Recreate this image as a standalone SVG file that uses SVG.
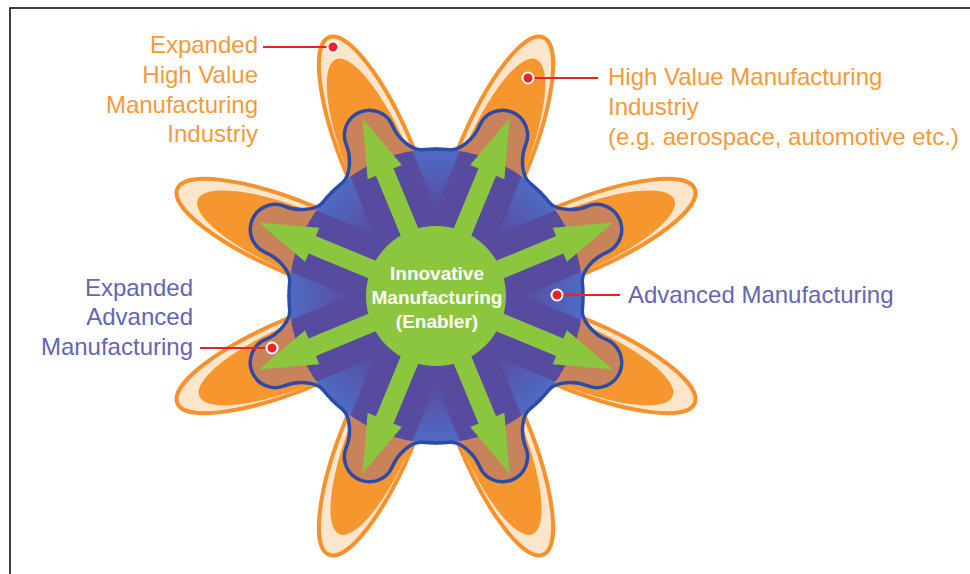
<svg xmlns="http://www.w3.org/2000/svg" xmlns:xlink="http://www.w3.org/1999/xlink" width="970" height="574" viewBox="0 0 970 574">
<style>
.po{fill:#fde6cc;stroke:#f5922e;stroke-width:4}
.pi{fill:#f5962f}
.lobe{fill:#c9835a}
.outline{fill:none;stroke:#2c4aa7;stroke-width:3.5;stroke-linejoin:round;stroke-linecap:round}
.arrow{fill:#8cc63f}
.lab{font-family:"Liberation Sans",Arial,sans-serif;font-size:24px}
.or{fill:#f49a3b}
.pu{fill:#6466b1}
.ctr{font-family:"Liberation Sans",Arial,sans-serif;font-size:19px;font-weight:bold;fill:#ffffff;text-anchor:middle}
.lead{stroke:#e3242b;stroke-width:2;fill:none}
.dot{fill:#e3242b;stroke:#ffffff;stroke-width:2}
</style>
<defs>
<linearGradient id="wg" x1="0" y1="0" x2="0" y2="1">
<stop offset="0" stop-color="#4f6dc6" stop-opacity="0.95"/>
<stop offset="1" stop-color="#4f6dc6" stop-opacity="0.05"/>
</linearGradient>
<g id="petal">
<ellipse cx="0" cy="-148" rx="36" ry="132" class="po"/>
<ellipse cx="-2" cy="-143" rx="32" ry="114" class="pi"/>
</g>
<path id="lobeFill" class="lobe" d="M0,0 L-56.26,-135.81 A147,147 0 0 1 -42.98,-140.58 C-33.4,-143.5 -25,-160 -25,-174 A25,25 0 0 1 25,-174 C25,-160 33.4,-143.5 42.98,-140.58 A147,147 0 0 1 56.26,-135.81 Z"/>
<path id="lobeLine" class="outline" d="M-56.26,-135.81 A147,147 0 0 1 -42.98,-140.58 C-33.4,-143.5 -25,-160 -25,-174 A25,25 0 0 1 25,-174 C25,-160 33.4,-143.5 42.98,-140.58 A147,147 0 0 1 56.26,-135.81"/>
<path id="wedge" fill="url(#wg)" d="M0,-88 L-24,-145 A147,147 0 0 1 24,-145 Z"/>
<path id="arrow" class="arrow" d="M-9.5,0 V-134 H-18.5 L0,-192 L18.5,-134 H9.5 V0 Z"/>
</defs>

<rect x="0" y="0" width="970" height="574" fill="#ffffff"/>
<path d="M10,574 V8 H970" fill="none" stroke="#000000" stroke-width="1.5"/>

<g id="high-value-manufacturing" transform="translate(436,296)">
<use xlink:href="#petal" transform="rotate(-22.5)"/>
<use xlink:href="#petal" transform="rotate(-67.5)"/>
<use xlink:href="#petal" transform="rotate(-112.5)"/>
<use xlink:href="#petal" transform="rotate(-157.5)"/>
<use xlink:href="#petal" transform="rotate(22.5) scale(-1,1)"/>
<use xlink:href="#petal" transform="rotate(67.5) scale(-1,1)"/>
<use xlink:href="#petal" transform="rotate(112.5) scale(-1,1)"/>
<use xlink:href="#petal" transform="rotate(157.5) scale(-1,1)"/>
</g>

<g id="advanced-manufacturing" transform="translate(436,296)">
<use xlink:href="#lobeFill" transform="rotate(-22.5)"/>
<use xlink:href="#lobeFill" transform="rotate(-67.5)"/>
<use xlink:href="#lobeFill" transform="rotate(-112.5)"/>
<use xlink:href="#lobeFill" transform="rotate(-157.5)"/>
<use xlink:href="#lobeFill" transform="rotate(22.5)"/>
<use xlink:href="#lobeFill" transform="rotate(67.5)"/>
<use xlink:href="#lobeFill" transform="rotate(112.5)"/>
<use xlink:href="#lobeFill" transform="rotate(157.5)"/>
<circle cx="0" cy="0" r="147" fill="#574b9f"/>
<use xlink:href="#wedge"/>
<use xlink:href="#wedge" transform="rotate(45)"/>
<use xlink:href="#wedge" transform="rotate(90)"/>
<use xlink:href="#wedge" transform="rotate(135)"/>
<use xlink:href="#wedge" transform="rotate(180)"/>
<use xlink:href="#wedge" transform="rotate(225)"/>
<use xlink:href="#wedge" transform="rotate(270)"/>
<use xlink:href="#wedge" transform="rotate(315)"/>
<use xlink:href="#lobeLine" transform="rotate(-22.5)"/>
<use xlink:href="#lobeLine" transform="rotate(-67.5)"/>
<use xlink:href="#lobeLine" transform="rotate(-112.5)"/>
<use xlink:href="#lobeLine" transform="rotate(-157.5)"/>
<use xlink:href="#lobeLine" transform="rotate(22.5)"/>
<use xlink:href="#lobeLine" transform="rotate(67.5)"/>
<use xlink:href="#lobeLine" transform="rotate(112.5)"/>
<use xlink:href="#lobeLine" transform="rotate(157.5)"/>
</g>

<g id="arrows" transform="translate(436,296)">
<use xlink:href="#arrow" transform="rotate(-22.5)"/>
<use xlink:href="#arrow" transform="rotate(-67.5)"/>
<use xlink:href="#arrow" transform="rotate(-112.5)"/>
<use xlink:href="#arrow" transform="rotate(-157.5)"/>
<use xlink:href="#arrow" transform="rotate(22.5)"/>
<use xlink:href="#arrow" transform="rotate(67.5)"/>
<use xlink:href="#arrow" transform="rotate(112.5)"/>
<use xlink:href="#arrow" transform="rotate(157.5)"/>
</g>

<g id="enabler">
<circle cx="436" cy="296" r="70" fill="#8cc63f"/>
<text class="ctr"><tspan x="437" y="280">Innovative</tspan><tspan x="437" y="304">Manufacturing</tspan><tspan x="437" y="328">(Enabler)</tspan></text>
</g>

<g id="connectors">
<line class="lead" x1="263" y1="47" x2="333" y2="47"/>
<line class="lead" x1="528" y1="78" x2="598" y2="78"/>
<line class="lead" x1="200" y1="348" x2="272" y2="348"/>
<line class="lead" x1="557" y1="295" x2="620" y2="295"/>
<circle class="dot" cx="333" cy="47" r="5.5"/>
<circle class="dot" cx="528" cy="78" r="5.5"/>
<circle class="dot" cx="272" cy="348" r="5.5"/>
<circle class="dot" cx="557" cy="295" r="5.5"/>
</g>

<g id="label-expanded-hvm">
<text class="lab or" text-anchor="end"><tspan x="258" y="53">Expanded</tspan><tspan x="258" y="83">High Value</tspan><tspan x="258" y="113">Manufacturing</tspan><tspan x="258" y="142">Industriy</tspan></text>
</g>
<g id="label-hvm">
<text class="lab or"><tspan x="608" y="85">High Value Manufacturing</tspan><tspan x="608" y="115">Industriy</tspan><tspan x="608" y="145">(e.g. aerospace, automotive etc.)</tspan></text>
</g>
<g id="label-expanded-am">
<text class="lab pu" text-anchor="end"><tspan x="193" y="296">Expanded</tspan><tspan x="193" y="325">Advanced</tspan><tspan x="193" y="355">Manufacturing</tspan></text>
</g>
<g id="label-am">
<text class="lab pu" x="628" y="303">Advanced Manufacturing</text>
</g>
</svg>
